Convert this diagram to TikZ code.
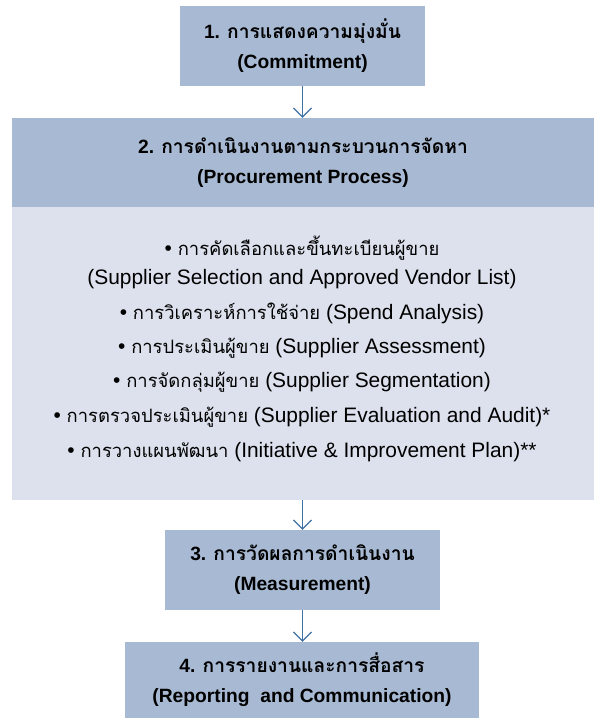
\documentclass[tikz,border=0pt]{standalone}
\usepackage{fontspec}
\usetikzlibrary{arrows.meta}
\setmainfont{Liberation Sans}
% Thai glyphs: full size in the stage titles, a little smaller in the list
\newfontfamily\thai[Script=Thai]{Loma}
\newfontfamily\thaiitem[Script=Thai,Scale=0.88]{Loma}
\definecolor{boxdark}{HTML}{A8BAD3}
\definecolor{boxlight}{HTML}{DCE1ED}
\definecolor{linkblue}{HTML}{3F72A6}
\tikzset{
  stagebox/.style={fill=boxdark, draw=none, inner sep=0pt, align=center,
    font=\bfseries\fontsize{19.3}{30}\selectfont},
  bodybox/.style={fill=boxlight, draw=none, inner sep=0pt},
  itemline/.style={inner sep=0pt, anchor=center, font=\fontsize{21}{24}\selectfont},
  link/.style={draw=linkblue, line width=1.2bp,
    -{Straight Barb[length=9bp,width=18bp,line width=1.2bp]}}
}
\begin{document}
\begin{tikzpicture}[x=1bp,y=-1bp]
\useasboundingbox (0,0) rectangle (594,718);

% stage 1
\node[stagebox, minimum width=245bp, minimum height=80bp] (s1) at (302.5,46)
  {1. {\thai การแสดงความมุ่งมั่น}\\(Commitment)};

% stage 2: heading band and list area
\node[bodybox, minimum width=582bp, minimum height=293bp] (s2body) at (303,353.5) {};
\node[stagebox, minimum width=582bp, minimum height=89bp] (s2) at (303,162.5)
  {2. {\thai การดำเนินงานตามกระบวนการจัดหา}\\(Procurement Process)};

\node[itemline] (l1) at (302,248) {• {\thaiitem การคัดเลือกและขึ้นทะเบียนผู้ขาย}};
\node[itemline] (l2) at (302,279) {(Supplier Selection and Approved Vendor List)};
\node[itemline] (l3) at (302,313) {• {\thaiitem การวิเคราะห์การใช้จ่าย} (Spend Analysis)};
\node[itemline] (l4) at (302,348) {• {\thaiitem การประเมินผู้ขาย} (Supplier Assessment)};
\node[itemline] (l5) at (302,382) {• {\thaiitem การจัดกลุ่มผู้ขาย} (Supplier Segmentation)};
\node[itemline] (l6) at (302,417) {• {\thaiitem การตรวจประเมินผู้ขาย} (Supplier Evaluation and Audit)*};
\node[itemline] (l7) at (302,452) {• {\thaiitem การวางแผนพัฒนา} (Initiative \& Improvement Plan)**};

% stage 3
\node[stagebox, minimum width=275bp, minimum height=80bp] (s3) at (302.5,570)
  {3. {\thai การวัดผลการดำเนินงาน}\\(Measurement)};

% stage 4
\node[stagebox, minimum width=354bp, minimum height=76bp] (s4) at (302,680)
  {4. {\thai การรายงานและการสื่อสาร}\\(Reporting\ \ and Communication)};

% connectors
\draw[link] (s1.south) -- (s1.south |- s2.north);
\draw[link] (s1.south |- s2body.south) -- (s1.south |- s3.north);
\draw[link] (s1.south |- s3.south) -- (s1.south |- s4.north);
\end{tikzpicture}
\end{document}
